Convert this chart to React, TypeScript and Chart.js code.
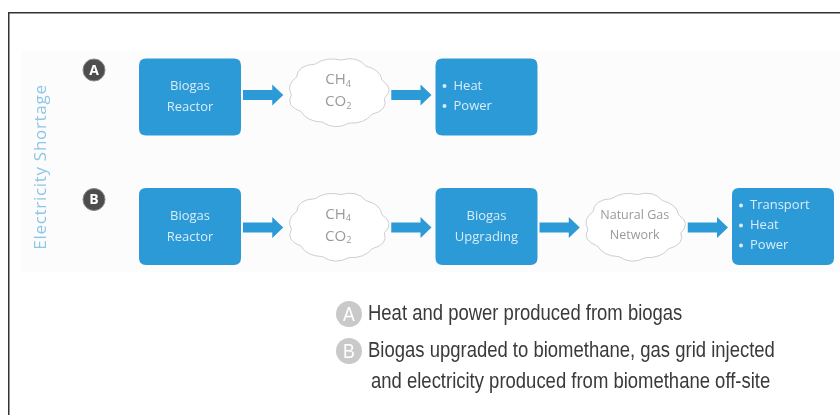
import React, { useEffect, useRef } from "react";
import { Chart, registerables } from "chart.js";

Chart.register(...registerables);

// ---- Data ----
const sideTitle = "Electricity Shortage";
const rowKeys = ["A", "B"];
const rowAStages: string[][] = [["Biogas", "Reactor"], ["CH₄", "CO₂"], ["Heat", "Power"]];
const rowAKinds = ["box", "cloud", "list"];
const rowBStages: string[][] = [
  ["Biogas", "Reactor"],
  ["CH₄", "CO₂"],
  ["Biogas", "Upgrading"],
  ["Natural Gas", "Network"],
  ["Transport", "Heat", "Power"],
];
const rowBKinds = ["box", "cloud", "box", "cloud", "list"];
const legendKeys = ["A", "B"];
const legendLines: string[][] = [
  ["Heat and power produced from biogas"],
  ["Biogas upgraded to biomethane, gas grid injected", "and electricity produced from biomethane off-site"],
];

// ---- Styles ----
const BLUE = "#2b9ad7";
const BOX_TEXT = "#d9edf9";
const CLOUD_TEXT = "#9a9a9a";
const BOX_W = 102;
const BOX_H = 77;
const CLOUD_W = 102;
const CLOUD_H = 72;
const UI_FONT = "'Open Sans', 'DejaVu Sans', sans-serif";
const NARROW_FONT = "'Liberation Sans', Arial, sans-serif";
const CONDENSE = 0.84;

const SUBS = "₀₁₂₃₄₅₆₇₈₉";

function drawRich(ctx: CanvasRenderingContext2D, text: string, x: number, y: number, size: number, family: string, color: string, align: "left" | "center") {
  const segs: { t: string; sub: boolean }[] = [];
  for (const ch of text) {
    const i = SUBS.indexOf(ch);
    const sub = i >= 0;
    const t = sub ? String(i) : ch;
    if (segs.length && segs[segs.length - 1].sub === sub) segs[segs.length - 1].t += t;
    else segs.push({ t, sub });
  }
  let total = 0;
  const widths: number[] = [];
  for (const s of segs) {
    ctx.font = `${s.sub ? size * 0.62 : size}px ${family}`;
    const w = ctx.measureText(s.t).width;
    widths.push(w);
    total += w;
  }
  let cx = align === "center" ? x - total / 2 : x;
  ctx.fillStyle = color;
  ctx.textAlign = "left";
  ctx.textBaseline = "middle";
  segs.forEach((s, i) => {
    ctx.font = `${s.sub ? size * 0.62 : size}px ${family}`;
    ctx.fillText(s.t, cx, s.sub ? y + size * 0.28 : y);
    cx += widths[i];
  });
}

function roundRect(ctx: CanvasRenderingContext2D, x: number, y: number, w: number, h: number, r: number) {
  ctx.beginPath();
  ctx.moveTo(x + r, y);
  ctx.lineTo(x + w - r, y);
  ctx.quadraticCurveTo(x + w, y, x + w, y + r);
  ctx.lineTo(x + w, y + h - r);
  ctx.quadraticCurveTo(x + w, y + h, x + w - r, y + h);
  ctx.lineTo(x + r, y + h);
  ctx.quadraticCurveTo(x, y + h, x, y + h - r);
  ctx.lineTo(x, y + r);
  ctx.quadraticCurveTo(x, y, x + r, y);
  ctx.closePath();
}

function drawCloud(ctx: CanvasRenderingContext2D, cx: number, cy: number, w: number, h: number) {
  const rx = w / 2 - 4;
  const ry = h / 2 - 4;
  const n = 11;
  ctx.beginPath();
  for (let i = 0; i <= n; i++) {
    const a = (i / n) * Math.PI * 2 + 0.2;
    const px = cx + rx * Math.cos(a);
    const py = cy + ry * Math.sin(a);
    if (i === 0) ctx.moveTo(px, py);
    else {
      const am = ((i - 0.5) / n) * Math.PI * 2 + 0.2;
      const k = 1.17 + (i % 2 ? 0.04 : -0.03);
      ctx.quadraticCurveTo(cx + rx * k * Math.cos(am), cy + ry * k * Math.sin(am), px, py);
    }
  }
  ctx.closePath();
  ctx.fillStyle = "#ffffff";
  ctx.fill();
  ctx.strokeStyle = "#cfcfcf";
  ctx.lineWidth = 1;
  ctx.stroke();
}

function drawArrow(ctx: CanvasRenderingContext2D, x1: number, x2: number, y: number) {
  const shaft = 10;
  const head = 21;
  const headLen = 11;
  ctx.fillStyle = BLUE;
  ctx.beginPath();
  ctx.moveTo(x1, y - shaft / 2);
  ctx.lineTo(x2 - headLen, y - shaft / 2);
  ctx.lineTo(x2 - headLen, y - head / 2);
  ctx.lineTo(x2, y);
  ctx.lineTo(x2 - headLen, y + head / 2);
  ctx.lineTo(x2 - headLen, y + shaft / 2);
  ctx.lineTo(x1, y + shaft / 2);
  ctx.closePath();
  ctx.fill();
}

function halfWidth(kind: string) {
  return kind === "cloud" ? CLOUD_W / 2 : BOX_W / 2;
}

function condensedText(ctx: CanvasRenderingContext2D, t: string, x: number, y: number, align: CanvasTextAlign) {
  ctx.save();
  ctx.translate(x, y);
  ctx.scale(CONDENSE, 1);
  ctx.textAlign = align;
  ctx.fillText(t, 0, 0);
  ctx.restore();
}

const diagramPlugin = {
  id: "diagram",
  beforeDatasetsDraw(chart: any) {
    const ctx: CanvasRenderingContext2D = chart.ctx;
    ctx.save();
    // faint panel
    ctx.fillStyle = "#fcfcfc";
    ctx.fillRect(22, 50, 818, 222);
    // frame (top and left)
    ctx.strokeStyle = "#333333";
    ctx.lineWidth = 1.5;
    ctx.beginPath();
    ctx.moveTo(8.75, 415);
    ctx.lineTo(8.75, 12.75);
    ctx.lineTo(840, 12.75);
    ctx.stroke();
    // side title
    ctx.translate(41, 167);
    ctx.rotate(-Math.PI / 2);
    ctx.font = `17px ${UI_FONT}`;
    (ctx as any).letterSpacing = "0.7px";
    ctx.fillStyle = "#8ec6e6";
    ctx.textAlign = "center";
    ctx.textBaseline = "middle";
    ctx.fillText(sideTitle, 0, 0);
    (ctx as any).letterSpacing = "0px";
    ctx.restore();
  },
  afterDatasetsDraw(chart: any) {
    const ctx: CanvasRenderingContext2D = chart.ctx;
    ctx.save();
    const rows = [
      { stages: rowAStages, kinds: rowAKinds },
      { stages: rowBStages, kinds: rowBKinds },
    ];
    rows.forEach((row, r) => {
      const pts = chart.getDatasetMeta(r).data;
      // row key circle
      const ky = pts[0].y - 27;
      ctx.beginPath();
      ctx.arc(94, ky, 11, 0, Math.PI * 2);
      ctx.fillStyle = "#4d4d4d";
      ctx.fill();
      ctx.strokeStyle = "#8a8a8a";
      ctx.lineWidth = 1;
      ctx.stroke();
      ctx.font = `bold 14px ${UI_FONT}`;
      ctx.fillStyle = "#ffffff";
      ctx.textAlign = "center";
      ctx.textBaseline = "middle";
      ctx.fillText(rowKeys[r], 94, ky + 1);

      // arrows
      for (let i = 0; i < pts.length - 1; i++) {
        const x1 = pts[i].x + halfWidth(row.kinds[i]) + 2;
        const x2 = pts[i + 1].x - halfWidth(row.kinds[i + 1]) - 4;
        drawArrow(ctx, x1, x2, pts[i].y + (r === 0 ? -2 : 1));
      }
      // nodes
      pts.forEach((p: any, i: number) => {
        const kind = row.kinds[i];
        const lines = row.stages[i];
        if (kind === "cloud") {
          drawCloud(ctx, p.x, p.y - (r === 0 ? 5 : 0), CLOUD_W, CLOUD_H);
          const size = lines[0].length > 4 ? 12.5 : 15;
          const gap = lines[0].length > 4 ? 20 : 22;
          const cy = p.y - (r === 0 ? 6 : 1);
          lines.forEach((t, j) => drawRich(ctx, t, p.x, cy + (j - (lines.length - 1) / 2) * gap, size, UI_FONT, CLOUD_TEXT, "center"));
        } else {
          roundRect(ctx, p.x - BOX_W / 2, p.y - BOX_H / 2, BOX_W, BOX_H, 7);
          ctx.fillStyle = BLUE;
          ctx.fill();
          if (kind === "box") {
            lines.forEach((t, j) => drawRich(ctx, t, p.x, p.y + (j - (lines.length - 1) / 2) * 21, 13, UI_FONT, BOX_TEXT, "center"));
          } else {
            const bx = p.x - BOX_W / 2 + 9;
            lines.forEach((t, j) => {
              const ly = p.y + (j - (lines.length - 1) / 2) * 20 - 1;
              ctx.beginPath();
              ctx.arc(bx, ly, 2, 0, Math.PI * 2);
              ctx.fillStyle = BOX_TEXT;
              ctx.fill();
              drawRich(ctx, t, bx + 9, ly, 13, UI_FONT, BOX_TEXT, "left");
            });
          }
        }
      });
    });

    // legend
    const legendY = [314, 351];
    legendKeys.forEach((k, i) => {
      const cy = legendY[i];
      ctx.beginPath();
      ctx.arc(349, cy, 13, 0, Math.PI * 2);
      ctx.fillStyle = "#c9c9c9";
      ctx.fill();
      ctx.font = `21px ${NARROW_FONT}`;
      ctx.fillStyle = "#ffffff";
      ctx.textBaseline = "middle";
      condensedText(ctx, k, 349, cy + 1, "center");
      legendLines[i].forEach((t, j) => {
        ctx.font = `22px ${NARROW_FONT}`;
        ctx.fillStyle = "#3a3a3a";
        ctx.textBaseline = "alphabetic";
        condensedText(ctx, t, j === 0 ? 368 : 371, cy + 6 + j * 31, "left");
      });
    });
    ctx.restore();
  },
};

export default function App() {
  const ref = useRef<HTMLCanvasElement | null>(null);
  useEffect(() => {
    document.body.style.margin = "0";
    const canvas = ref.current;
    if (!canvas) return;
    const chart = new Chart(canvas, {
      type: "scatter",
      data: {
        datasets: [
          { label: "A", data: rowAStages.map((_, i) => ({ x: i, y: 0 })), pointRadius: 0, pointHoverRadius: 0 },
          { label: "B", data: rowBStages.map((_, i) => ({ x: i, y: 1 })), pointRadius: 0, pointHoverRadius: 0 },
        ],
      },
      options: {
        animation: false,
        responsive: false,
        devicePixelRatio: 1,
        layout: { padding: 0 },
        events: [],
        plugins: { legend: { display: false }, tooltip: { enabled: false }, title: { display: false } },
        scales: {
          x: { type: "linear", display: false, min: -190 / 148.25, max: 650 / 148.25 },
          y: { type: "linear", display: false, reverse: true, min: -97 / 129.5, max: 318 / 129.5 },
        },
      },
      plugins: [diagramPlugin],
    });
    return () => chart.destroy();
  }, []);
  return (
    <div style={{ width: 840, height: 415, background: "#ffffff" }}>
      <canvas ref={ref} width={840} height={415} style={{ display: "block" }} />
    </div>
  );
}
